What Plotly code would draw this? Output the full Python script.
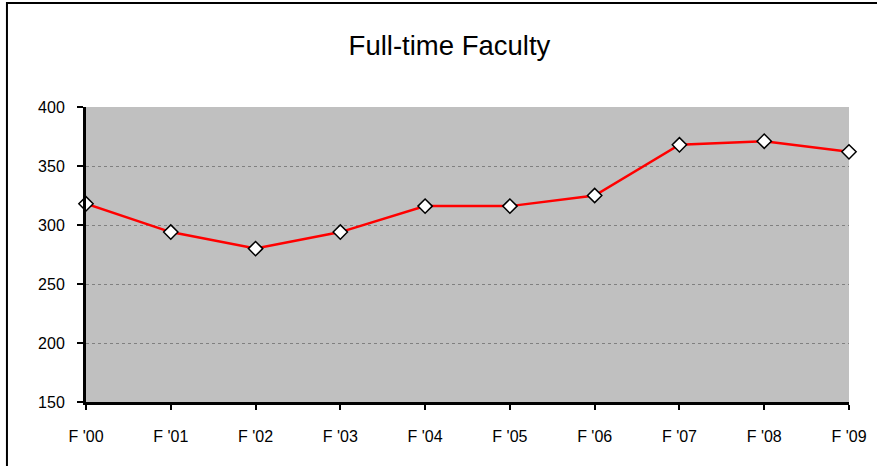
import plotly.graph_objects as go

terms = ["F '00", "F '01", "F '02", "F '03", "F '04", "F '05", "F '06", "F '07", "F '08", "F '09"]
faculty = [318, 294, 280, 294, 316, 316, 325, 368, 371, 362]
y_ticks = [150, 200, 250, 300, 350, 400]

fig = go.Figure()
fig.add_trace(go.Scatter(
    x=list(range(len(terms))), y=faculty, mode="lines+markers",
    line=dict(color="#FF0000", width=2.5),
    marker=dict(symbol="diamond", size=11, color="white",
                line=dict(color="black", width=1.5)),
    cliponaxis=False, showlegend=False,
))

fig.update_layout(
    width=877, height=466,
    margin=dict(l=86, r=28, t=107, b=64),
    paper_bgcolor="white", plot_bgcolor="#C0C0C0",
    font=dict(family="Liberation Sans, Arial, sans-serif", size=16, color="black"),
    title=dict(text="Full-time Faculty", x=0.5125, xanchor="center",
               y=0.903, yanchor="middle", font=dict(size=27.5, color="black")),
    xaxis=dict(
        range=[0, len(terms) - 1], tickmode="array",
        tickvals=list(range(len(terms))), ticktext=terms,
        showgrid=False, zeroline=False, automargin=False,
        showline=True, linecolor="black", linewidth=3,
        ticks="outside", ticklen=5, tickwidth=2, tickcolor="black",
        ticklabelstandoff=13,
    ),
    yaxis=dict(
        range=[150, 400], tickvals=y_ticks,
        showgrid=True, gridcolor="#808080", griddash="dot", gridwidth=1,
        zeroline=False, automargin=False,
        showline=True, linecolor="black", linewidth=3,
        ticks="outside", ticklen=6, tickwidth=2, tickcolor="black",
        ticklabelstandoff=9,
    ),
    shapes=[dict(type="rect", xref="paper", yref="paper",
                 x0=-0.1036, x1=1.1, y0=-0.3, y1=1.3525,
                 line=dict(color="black", width=2), fillcolor="rgba(0,0,0,0)",
                 layer="below")],
)

fig.write_html("out.html")
